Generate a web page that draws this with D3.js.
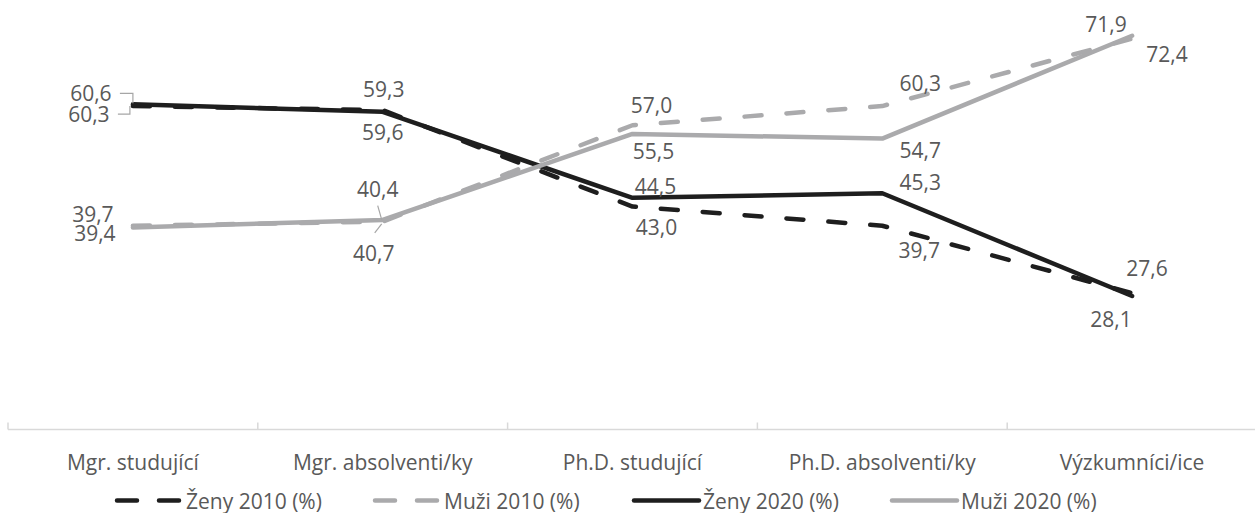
<!DOCTYPE html>
<html><head><meta charset="utf-8">
<script src="https://cdn.jsdelivr.net/npm/d3@7/dist/d3.min.js"></script>
<style>
html,body{margin:0;padding:0;background:#fff;}
svg{display:block;}
text{font-family:"Open Sans",sans-serif;fill:#595959;}
</style></head>
<body>
<svg id="chart" width="1255" height="513"></svg>
<script>
// ---- data ----
const categories = ["Mgr. studující","Mgr. absolventi/ky","Ph.D. studující","Ph.D. absolventi/ky","Výzkumníci/ice"];
const seriesNames = ["Ženy 2010 (%)","Muži 2010 (%)","Ženy 2020 (%)","Muži 2020 (%)"];
const zeny2010 = [60.3, 59.6, 43.0, 39.7, 28.1];
const muzi2010 = [39.7, 40.4, 57.0, 60.3, 71.9];
const zeny2020 = [60.6, 59.3, 44.5, 45.3, 27.6];
const muzi2020 = [39.4, 40.7, 55.5, 54.7, 72.4];

// ---- styling ----
const BLACK = "#1e1e1e", GRAY = "#aaaaac";
const styles = [
  {color: BLACK, dash: "17,25"},
  {color: GRAY,  dash: "17,25"},
  {color: BLACK, dash: null},
  {color: GRAY,  dash: null}
];
const FS = 21;
// label offsets (dx, dy of label centre from point)
const labelOffsets = [
  [[-44,8],[0,22],[24,20],[37,24],[-21,26]],
  [[-40,-12],[-5,-33],[19,-20],[38,-23],[-26,-15]],
  [[-42,-11],[1,-23],[23,-12],[38,-11],[15,-28]],
  [[-38,6],[-9,33],[21,17],[38,11],[35,18]]
];
const leaders = [
  {s:2, c:0, type:"elbow"},
  {s:0, c:0, type:"elbow"},
  {s:1, c:1, type:"straight"},
  {s:3, c:1, type:"straight"}
];

const allSeries = [zeny2010, muzi2010, zeny2020, muzi2020];
const svg = d3.select("#chart");
const W = 1255;
const axisY = 429.5;

const x = d3.scaleBand().domain(categories).range([8, 1257]).padding(0);
const cx = c => x(c) + x.bandwidth()/2;
const y = d3.scaleLinear().domain([0, 80]).range([456.4, 456.4 - 80*5.81]);

// axis
const axisG = svg.append("g").attr("transform", `translate(0,${axisY})`);
axisG.append("line").attr("x1", 8).attr("x2", W).attr("y1", 0).attr("y2", 0)
  .attr("stroke", "#d9d9d9").attr("stroke-width", 1.5);
const bounds = categories.map(c => x(c));
axisG.selectAll("line.tick").data(bounds).join("line").attr("class","tick")
  .attr("x1", d => d).attr("x2", d => d).attr("y1", 0).attr("y2", -7)
  .attr("stroke", "#d9d9d9").attr("stroke-width", 1.5);
axisG.selectAll("text.cat").data(categories).join("text").attr("class","cat")
  .attr("x", d => cx(d)).attr("y", 32).attr("dominant-baseline","central")
  .attr("text-anchor","middle").attr("font-size", FS).text(d => d);

// lines
const line = d3.line().x((d,i) => cx(categories[i])).y(d => y(d));
allSeries.forEach((vals, si) => {
  const st = styles[si];
  const p = svg.append("path").datum(vals).attr("d", line)
    .attr("fill","none").attr("stroke", st.color).attr("stroke-width", 4.5)
    .attr("stroke-linejoin","round").attr("stroke-linecap","round");
  if (st.dash) p.attr("stroke-dasharray", st.dash);
});

// labels
const fmt = v => d3.format(".1f")(v).replace(".", ",");
const labelG = svg.append("g");
const labelPos = {};
allSeries.forEach((vals, si) => {
  vals.forEach((v, ci) => {
    const px = cx(categories[ci]), py = y(v);
    const [dx, dy] = labelOffsets[si][ci];
    labelPos[si+"_"+ci] = {px, py, lx: px+dx, ly: py+dy};
    labelG.append("text").attr("x", px+dx).attr("y", py+dy)
      .attr("text-anchor","middle").attr("dominant-baseline","central")
      .attr("font-size", FS).text(fmt(v));
  });
});

// leader lines
leaders.forEach(L => {
  const p = labelPos[L.s+"_"+L.c];
  let d;
  if (L.type === "elbow") {
    const sx = p.lx + 29;
    d = `M${sx},${p.ly} H${p.px - (L.s===0?3:0)} V${p.py + (L.s===0? 0 : -1)}`;
  } else {
    const up = p.ly < p.py;
    const sy = up ? p.ly + 17 : p.ly - 20;
    const sxx = p.lx + (up ? 0 : 1);
    const ey = up ? p.py - 2 : p.py + 4;
    d = `M${sxx},${sy} L${p.px - 1},${ey}`;
  }
  svg.append("path").attr("d", d).attr("fill","none")
    .attr("stroke", "#a6a6a6").attr("stroke-width", 1.2);
});

// legend
const legendY = 500.5;
const legendX = [115, 373, 632, 890];
const leg = svg.append("g");
seriesNames.forEach((name, i) => {
  const g = leg.append("g").attr("transform", `translate(${legendX[i]},${legendY})`);
  g.append("line").attr("x1", 2).attr("x2", 67).attr("y1", 0).attr("y2", 0)
    .attr("stroke", styles[i].color).attr("stroke-width", 4.5)
    .attr("stroke-linecap","round")
    .attr("stroke-dasharray", styles[i].dash ? "20,22" : null);
  g.append("text").attr("x", 71).attr("y", 0).attr("dominant-baseline","central")
    .attr("font-size", FS).text(name);
});
</script>
</body></html>
